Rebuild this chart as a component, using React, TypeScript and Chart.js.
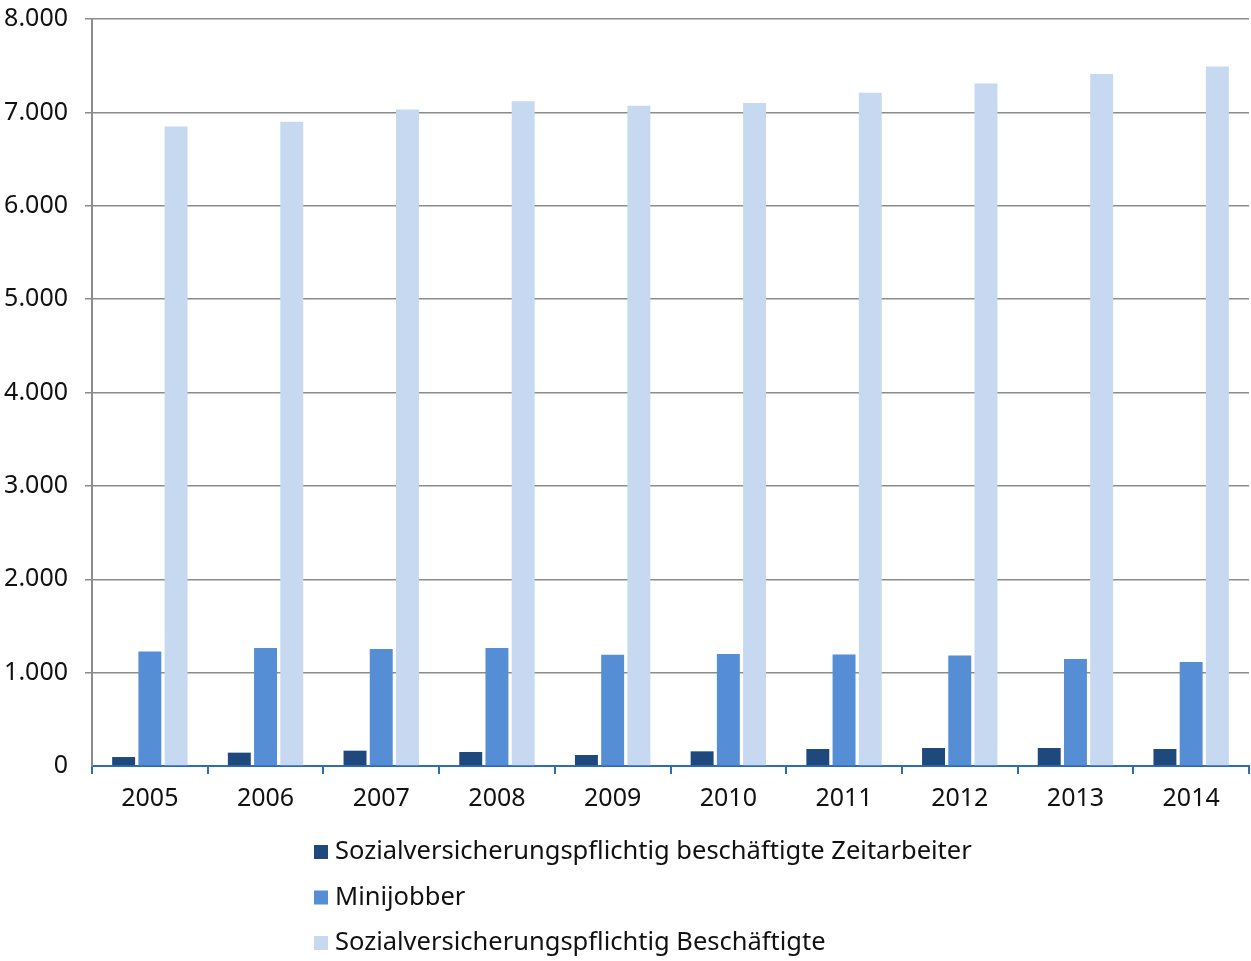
import React, { useEffect, useRef } from "react";
import { Chart, registerables } from "chart.js";

Chart.register(...registerables);

const years = ["2005", "2006", "2007", "2008", "2009", "2010", "2011", "2012", "2013", "2014"];
const zeitarbeiter = [96, 143, 164, 150, 118, 157, 182, 193, 193, 182];
const minijobber = [1226, 1265, 1253, 1263, 1192, 1199, 1195, 1184, 1146, 1113];
const beschaeftigte = [6850, 6900, 7030, 7120, 7070, 7100, 7210, 7310, 7410, 7490];
const seriesLabels = [
  "Sozialversicherungspflichtig beschäftigte Zeitarbeiter",
  "Minijobber",
  "Sozialversicherungspflichtig Beschäftigte",
];
const seriesColors = ["#1F497D", "#558ED5", "#C6D9F1"];
const yMin = 0;
const yMax = 8000;
const yStep = 1000;

const FONT = "'Noto Sans', 'Open Sans', sans-serif";

const fmt = (v: number) => String(Math.round(v)).replace(/\B(?=(\d{3})+(?!\d))/g, ".");

const legendPlugin = {
  id: "verticalLegend",
  afterDraw(chart: any) {
    const ctx = chart.ctx;
    const items = chart.data.datasets;
    ctx.save();
    ctx.font = `25.5px ${FONT}`;
    ctx.textBaseline = "middle";
    ctx.textAlign = "left";
    const x0 = 314;
    const yStart = 852;
    const gap = 45.5;
    items.forEach((ds: any, i: number) => {
      const y = yStart + i * gap;
      ctx.fillStyle = ds.backgroundColor;
      ctx.fillRect(x0, y - 7, 14, 14);
      ctx.fillStyle = "#111111";
      ctx.fillText(ds.label, x0 + 21, y);
    });
    ctx.restore();
  },
};

export default function App() {
  const canvasRef = useRef<HTMLCanvasElement | null>(null);

  useEffect(() => {
    document.body.style.margin = "0";
    const canvas = canvasRef.current;
    if (!canvas) return;
    const data = [zeitarbeiter, minijobber, beschaeftigte];
    const chart = new Chart(canvas, {
      type: "bar",
      data: {
        labels: years,
        datasets: data.map((d, i) => ({
          label: seriesLabels[i],
          data: d,
          backgroundColor: seriesColors[i],
          borderWidth: 0,
          categoryPercentage: 0.68,
          barPercentage: 0.875,
        })),
      },
      options: {
        responsive: false,
        animation: false,
        layout: { padding: { top: 19, right: 2, left: 0, bottom: 135 } },
        plugins: {
          legend: { display: false },
          tooltip: { enabled: false },
        },
        scales: {
          x: {
            offset: true,
            grid: {
              offset: true,
              drawOnChartArea: false,
              drawTicks: true,
              tickLength: 8,
              color: "#2E6DB4",
              lineWidth: 2,
            },
            border: { display: true, color: "#2E6DB4", width: 2 },
            ticks: {
              color: "#111111",
              font: { family: FONT, size: 25 },
              padding: 10,
            },
            afterFit: (s: any) => {
              s.height = 60;
              s.paddingLeft = 0;
              s.paddingRight = 0;
            },
          },
          y: {
            min: yMin,
            max: yMax,
            grid: {
              color: (c: any) => (c.tick && c.tick.value === 0 ? "rgba(0,0,0,0)" : "#8C8C8C"),
              lineWidth: 1.5,
              tickLength: 7,
              drawTicks: true,
            },
            border: { display: true, color: "#8C8C8C", width: 2 },
            ticks: {
              stepSize: yStep,
              color: "#111111",
              font: { family: FONT, size: 25 },
              padding: 17,
              callback: (v: any) => fmt(Number(v)),
            },
            afterFit: (s: any) => {
              s.width = 92;
              s.paddingTop = 0;
              s.paddingBottom = 0;
            },
          },
        },
      },
      plugins: [legendPlugin],
    });
    return () => chart.destroy();
  }, []);

  return (
    <div style={{ width: 1251, height: 961, background: "#ffffff" }}>
      <canvas ref={canvasRef} width={1251} height={961} style={{ display: "block" }} />
    </div>
  );
}
